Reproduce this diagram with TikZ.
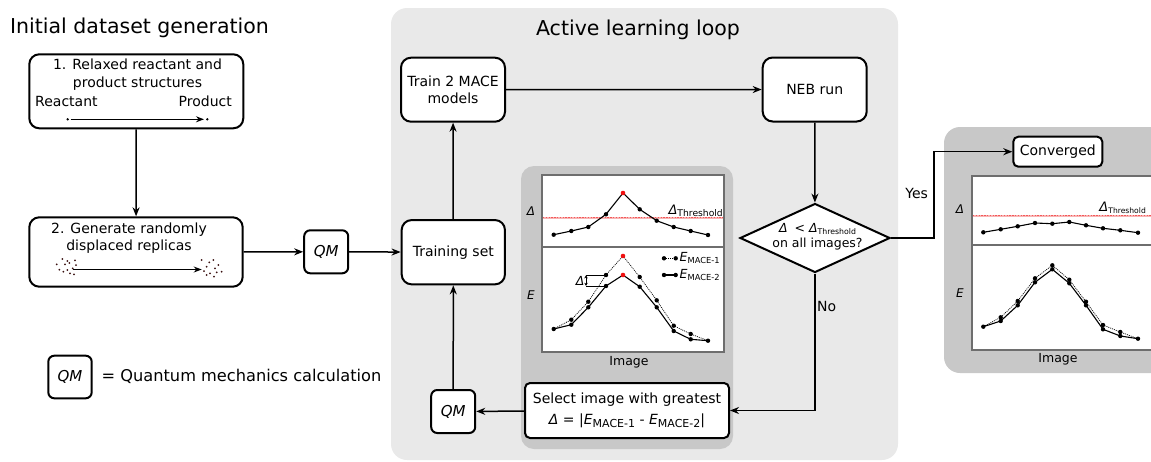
\documentclass[tikz,border=0pt]{standalone}
\usepackage{fontspec}
\setmainfont{DejaVu Sans}
\usetikzlibrary{arrows.meta,shapes.geometric}

\definecolor{loopbg}{HTML}{E9E9E9}
\definecolor{panelbg}{HTML}{C8C8C8}
\definecolor{framegray}{HTML}{6E6E6E}
\definecolor{dotred}{HTML}{F01010}
\definecolor{thrred}{HTML}{F45858}
\definecolor{palered}{HTML}{F8B4B4}
\definecolor{speck}{HTML}{3A1010}

% font size helper and lowered small text for subscripts
\newcommand\fs[2]{\fontsize{#1}{#2}\selectfont}
\newcommand\lowtext[2]{\raisebox{-0.35ex}{\fontsize{#1}{#1}\selectfont #2}}

\tikzset{
  box/.style={draw=black, line width=2pt, rounded corners=10pt, fill=white,
    inner sep=0pt, align=center, font=\fs{14}{17.5}},
  qmbox/.style={box, rounded corners=6pt, font=\fs{15}{18}\itshape,
    minimum width=44pt, minimum height=43pt},
  flow/.style={line width=1.5pt, -{Stealth[length=9pt,width=7pt]}},
  inner/.style={line width=1.3pt, -{Stealth[length=8pt,width=6pt]}},
  chartframe/.style={draw=framegray, line width=2pt, fill=white},
  txt/.style={inner sep=0pt, font=\fs{14}{17.5}},
  axis/.style={inner sep=0pt, font=\fs{12}{14}\itshape},
  imglabel/.style={inner sep=0pt, font=\fs{12.5}{15}},
  thrbase/.style={draw=palered, line width=1.6pt},
  thr/.style={draw=thrred, line width=1.4pt, dash pattern=on 1.3pt off 1.5pt},
  mace1/.style={line width=0.7pt, dash pattern=on 1pt off 1pt},
  mace2/.style={line width=1.1pt},
}

\begin{document}
\begin{tikzpicture}[x=1pt, y=-1pt]
\useasboundingbox (0,0) rectangle (1151,461);
\clip (0,0) rectangle (1151,461);

% ---------- background panels ----------
\fill[loopbg, rounded corners=16pt] (391,8) rectangle (898,460);
\fill[panelbg, rounded corners=13pt] (521,166) rectangle (733,449);
\fill[panelbg, rounded corners=16pt] (944,127) rectangle (1180,373);

% ---------- titles ----------
\node[anchor=base west, inner sep=0pt, font=\fs{20.5}{24}] (ttlinit) at (10,33.3) {Initial dataset generation};
\node[anchor=base, inner sep=0pt, font=\fs{20.5}{24}] (ttlloop) at (638,35) {Active learning loop};

% ---------- initial dataset generation ----------
\node[box, minimum width=214pt, minimum height=74pt] (box1) at (136.3,91.3) {};
\node[txt, align=center] (box1txt) at (137.5,74.5) {1. Relaxed reactant and\\product structures};
\node[txt, anchor=base west] (reac) at (35,106.8) {Reactant};
\node[txt, anchor=base east] (prod) at (232,106.8) {Product};
\fill (67.7,119.3) circle (1.3pt);
\fill (207.3,119.3) circle (1.3pt);
\coordinate (r0) at (70.5,119.3);
\coordinate (p0) at (204,119.3);
\draw[inner] (r0) -- (p0);

\node[box, minimum width=213.4pt, minimum height=69.4pt] (box2) at (136,252) {};
\node[txt, align=center] (box2txt) at (129,238) {2. Generate randomly\\displaced replicas};
\coordinate (r1) at (73.3,269.5);
\coordinate (p1) at (201.7,269.5);
\draw[inner] (r1) -- (p1);
\foreach \px/\py in {62.3/259,67.3/261,75/260.3,56.7/264.3,65/264.3,69.3/263,76/265,
  67.3/270,72.7/268.3,59.3/269.7,63.3/271.7,70/273.3,74/274.3,
  201.7/260,209.3/262.3,213.3/260,206.7/266.7,215/268.3,218.3/265,204/271,
  210/273.3,216.7/272.3,221.7/271.7,206.7/275,214/276.7}
  \fill[speck] (\px,\py) circle (1pt);

\node[qmbox] (qm1) at (326.2,251.8) {QM};

% legend
\node[qmbox, minimum width=43.4pt, minimum height=42.6pt] (qmleg) at (70,377) {QM};
\node[inner sep=0pt, anchor=west, font=\fs{16.2}{19}] (qmlegtxt) at (101.5,376.7) {= Quantum mechanics calculation};

% ---------- active learning loop ----------
\node[box, minimum width=104pt, minimum height=64pt] (train) at (453,89.7) {Train 2 MACE\\models};
\node[box, minimum width=104pt, minimum height=64pt] (neb) at (814.7,89.5) {NEB run};
\node[box, minimum width=103.3pt, minimum height=64.3pt] (tset) at (453.3,252.2) {Training set};
\node[qmbox] (qm2) at (453.2,411.5) {QM};
\node[box, rounded corners=5pt, minimum width=204pt, minimum height=55pt] (sel) at (627,410.5)
  {Select image with greatest\\[3pt]\textit{Δ} = |\textit{E}\lowtext{11}{MACE-1} - \textit{E}\lowtext{11}{MACE-2}|};

\node[draw=black, line width=2pt, fill=white, diamond, minimum width=150pt,
  minimum height=69pt, inner sep=0pt] (dia) at (815,238) {};
\node[inner sep=0pt, align=center, font=\fs{12.5}{15}] (diatxt) at (817.5,236.5)
  {\textit{Δ}\hspace{7pt}< \textit{Δ}\lowtext{7.8}{Threshold}\\on all images?};

\node[box, rounded corners=5pt, minimum width=89pt, minimum height=30pt] (conv) at (1057.8,151.7) {Converged};

% ---------- selection chart ----------
\draw[chartframe] (542,175) rectangle (724,352);
\draw[framegray, line width=2pt] (542,247) -- (724,247);
\node[axis] (ldelta) at (531,211) {Δ};
\node[axis] (lenergy) at (531,295) {E};
\node[imglabel] (limage) at (629,362) {Image};
\path[thrbase] (543,217.7) -- (723,217.7);
\path[thr] (543,217.7) -- (723,217.7);
\node[anchor=base east, inner sep=0pt, font=\fs{13}{15}] (lthr) at (723,214) {\textit{Δ}\lowtext{9.2}{Threshold}};

\draw[mace2] plot coordinates {(553.7,234.7) (571.3,231) (588.3,227) (606,214.3) (623,193)
  (639.7,209.3) (656.7,220.7) (673.7,227) (690.7,231) (708,235)};
\draw[mace1] plot coordinates {(553.7,329) (571.3,319.7) (588.3,301.7) (606,275) (623,256)
  (639.7,277) (656.7,300.3) (673.7,325.7) (690.7,334) (708,340.7)};
\draw[mace2] plot coordinates {(553.7,329) (571.3,324.7) (588.3,307.3) (606,286) (623,275)
  (639.7,286.7) (656.7,307.3) (673.7,331) (690.7,339.3) (708,340.7)};
\foreach \px/\py in {553.7/234.7,571.3/231,588.3/227,606/214.3,639.7/209.3,656.7/220.7,
  673.7/227,690.7/231,708/235,
  553.7/329,571.3/319.7,588.3/301.7,606/275,639.7/277,656.7/300.3,673.7/325.7,690.7/334,708/340.7,
  571.3/324.7,588.3/307.3,606/286,639.7/286.7,656.7/307.3,673.7/331,690.7/339.3}
  \fill (\px,\py) circle (2.2pt);
\foreach \py in {193,256,275}
  \fill[dotred] (623,\py) circle (2.3pt);

% spread between the two models
\draw[line width=0.5pt] (586,275) -- (606,275);
\draw[line width=0.5pt] (586,286.2) -- (606,286.2);
\draw[line width=0.9pt, {Stealth[length=3pt,width=3.5pt]}-{Stealth[length=3pt,width=3.5pt]}] (586,275.4) -- (586,285.8);
\node[anchor=east, inner sep=0pt, font=\fs{12.5}{14}\itshape] (dspread) at (584.5,280.7) {Δ};

% legend of the energy panel
\draw[mace1] (664,258.3) -- (675.7,258.3);
\fill (664,258.3) circle (2.2pt) (675.7,258.3) circle (2.2pt);
\draw[mace2] (664,275) -- (675.7,275);
\fill (664,275) circle (2.2pt) (675.7,275) circle (2.2pt);
\node[anchor=west, inner sep=0pt, font=\fs{12.5}{14}] (leg1) at (679.5,258.3) {\textit{E}\lowtext{8.3}{MACE-1}};
\node[anchor=west, inner sep=0pt, font=\fs{12.5}{14}] (leg2) at (679.5,275) {\textit{E}\lowtext{8.3}{MACE-2}};

% ---------- converged chart ----------
\draw[chartframe] (972,176) rectangle (1170,350);
\draw[framegray, line width=2pt] (972,245) -- (1170,245);
\node[axis] (rdelta) at (960,209) {Δ};
\node[axis] (renergy) at (960,293) {E};
\node[imglabel] (rimage) at (1058,359) {Image};
\path[thrbase] (973,215.7) -- (1151,215.7);
\path[thr] (973,215.7) -- (1151,215.7);
\node[anchor=base east, inner sep=0pt, font=\fs{13}{15}] (rthr) at (1146,211) {\textit{Δ}\lowtext{7.6}{Threshold}};

\draw[mace2] plot coordinates {(983.3,232.3) (1000.7,229.3) (1017.7,226.3) (1035,223) (1052.3,223.7)
  (1069.3,222) (1086,225.3) (1103,228.3) (1120.3,230.3) (1138,232.7)};
\draw[mace1] plot coordinates {(983.3,326.7) (1000.7,317.3) (1017.7,301) (1035,278.3) (1052.3,265.3)
  (1069.3,279.7) (1086,301.7) (1103,325) (1120.3,332) (1138,338.7)};
\draw[mace2] plot coordinates {(983.3,326.7) (1000.7,321) (1017.7,305.3) (1035,282.3) (1052.3,269.3)
  (1069.3,283.3) (1086,305.3) (1103,329.3) (1120.3,336) (1138,338.7)};
\foreach \px/\py in {983.3/232.3,1000.7/229.3,1017.7/226.3,1035/223,1052.3/223.7,1069.3/222,
  1086/225.3,1103/228.3,1120.3/230.3,1138/232.7,
  983.3/326.7,1000.7/317.3,1017.7/301,1035/278.3,1052.3/265.3,1069.3/279.7,1086/301.7,1103/325,1120.3/332,1138/338.7,
  1000.7/321,1017.7/305.3,1035/282.3,1052.3/269.3,1069.3/283.3,1086/305.3,1103/329.3,1120.3/336}
  \fill (\px,\py) circle (2.2pt);

% ---------- connectors ----------
\draw[flow] (box1) -- (box2);
\draw[flow] (box2) -- (qm1);
\draw[flow] (qm1) -- (tset);
\draw[flow] (tset) -- (train);
\draw[flow] (train) -- (neb);
\draw[flow] (neb) -- (dia);
\coordinate (yesbend) at (934,151.7);
\draw[flow] (dia.east) -| (yesbend) -- (conv.west);
\draw[flow] (dia.south) |- (sel.east);
\draw[flow] (sel) -- (qm2);
\draw[flow] (qm2) -- (tset);
\node[inner sep=0pt, font=\fs{14}{16}] (yes) at (916.7,193) {Yes};
\node[inner sep=0pt, font=\fs{14}{16}] (no) at (826.7,306.7) {No};
\end{tikzpicture}
\end{document}
